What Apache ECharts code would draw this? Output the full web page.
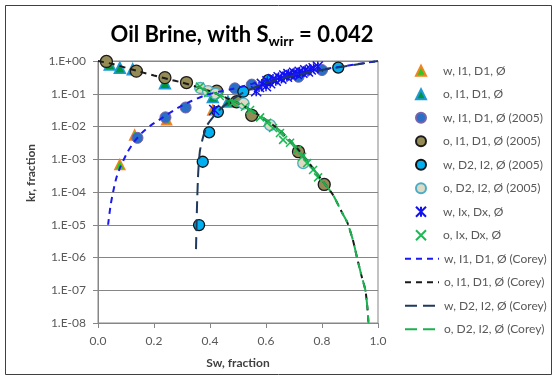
<!DOCTYPE html>
<html>
<head>
<meta charset="utf-8">
<script src="https://cdn.jsdelivr.net/npm/echarts@6/dist/echarts.min.js"></script>
<style>
  html, body { margin: 0; padding: 0; background: #ffffff; }
  #chart { width: 557px; height: 379px; }
</style>
</head>
<body>
<div id="chart"></div>
<script>
// Relative permeability data, Sw (fraction) vs kr (fraction)
const seriesNames = [
  'w, I1, D1, Ø', 'o, I1, D1, Ø', 'w, I1, D1, Ø (2005)', 'o, I1, D1, Ø (2005)',
  'w, D2, I2, Ø (2005)', 'o, D2, I2, Ø (2005)', 'w, Ix, Dx, Ø', 'o, Ix, Dx, Ø',
  'w, I1, D1, Ø (Corey)', 'o, I1, D1, Ø (Corey)', 'w, D2, I2, Ø (Corey)', 'o, D2, I2, Ø (Corey)'
];

const yTickLabels = ['1.E-08', '1.E-07', '1.E-06', '1.E-05', '1.E-04', '1.E-03', '1.E-02', '1.E-01', '1.E+00'];

// measured points
const wI1D1 = [[0.078, 6.9e-4], [0.131, 5.5e-3], [0.245, 0.016], [0.41, 0.032]];
const oI1D1 = [[0.042, 0.78], [0.078, 0.62], [0.124, 0.56], [0.239, 0.21], [0.41, 0.08], [0.464, 0.058]];
const wI1D1_2005 = [[0.141, 4.5e-3], [0.241, 0.019], [0.313, 0.038], [0.489, 0.146], [0.549, 0.19], [0.716, 0.33], [0.80, 0.53]];
const oI1D1_2005 = [[0.03, 0.97], [0.137, 0.49], [0.239, 0.31], [0.316, 0.22], [0.424, 0.12], [0.495, 0.057], [0.549, 0.022], [0.716, 1.7e-3], [0.808, 1.7e-4]];
const wD2I2_2005 = [[0.361, 9.8e-6], [0.374, 8.4e-4], [0.397, 6.6e-3], [0.428, 0.028], [0.519, 0.115], [0.608, 0.26], [0.858, 0.63]];
const oD2I2_2005 = [[0.365, 0.15], [0.393, 0.12], [0.42, 0.10], [0.52, 0.05], [0.615, 0.011], [0.733, 7.6e-4]];
const wIxDx = [
  [0.415, 0.032], [0.565, 0.12], [0.575, 0.16], [0.585, 0.20], [0.60, 0.17], [0.605, 0.24],
  [0.615, 0.21], [0.625, 0.28], [0.635, 0.25], [0.645, 0.32], [0.655, 0.29], [0.665, 0.36],
  [0.675, 0.33], [0.68, 0.40], [0.69, 0.37], [0.70, 0.44], [0.71, 0.40], [0.72, 0.47],
  [0.73, 0.44], [0.74, 0.52], [0.75, 0.48], [0.76, 0.55], [0.77, 0.60], [0.785, 0.68]
];
const oIxDx = [
  [0.364, 0.165], [0.393, 0.105], [0.435, 0.085], [0.482, 0.052], [0.525, 0.04], [0.543, 0.032],
  [0.579, 0.019], [0.604, 0.013], [0.625, 9e-3], [0.65, 6.3e-3], [0.661, 3.9e-3], [0.686, 3.2e-3],
  [0.711, 1.9e-3], [0.729, 1.2e-3], [0.747, 7.6e-4], [0.768, 4.7e-4], [0.786, 2.8e-4]
];

// Corey model curves
const wI1D1_corey = [
  [0.036, 1e-5], [0.045, 4e-5], [0.054, 1e-4], [0.065, 2.6e-4], [0.078, 5.4e-4], [0.09, 9e-4],
  [0.106, 1.7e-3], [0.13, 3.5e-3], [0.16, 6.8e-3], [0.19, 0.011], [0.228, 0.018], [0.285, 0.037],
  [0.33, 0.058], [0.375, 0.085], [0.43, 0.115], [0.48, 0.14], [0.55, 0.2], [0.6, 0.26],
  [0.7, 0.39], [0.8, 0.55], [0.9, 0.74], [1.0, 1.0]
];
const oI1D1_corey = [
  [0.0, 1.0], [0.05, 0.82], [0.1, 0.62], [0.15, 0.47], [0.2, 0.36], [0.25, 0.28], [0.3, 0.22],
  [0.35, 0.165], [0.4, 0.12], [0.45, 0.08], [0.5, 0.052], [0.55, 0.03], [0.6, 0.016],
  [0.65, 7.5e-3], [0.7, 2.8e-3], [0.75, 8.5e-4], [0.8, 2.3e-4], [0.84, 8e-5], [0.87, 2.5e-5],
  [0.89, 1.2e-5], [0.91, 3.5e-6], [0.925, 1e-6], [0.94, 3e-7], [0.955, 1e-7], [0.962, 3e-8], [0.966, 1e-8]
];
const wD2I2_corey = [
  [0.350, 1.8e-6], [0.352, 1e-5], [0.354, 5e-5], [0.358, 4e-4], [0.364, 1.8e-3], [0.376, 5e-3],
  [0.39, 0.011], [0.41, 0.019], [0.43, 0.03], [0.46, 0.05], [0.52, 0.11], [0.6, 0.21],
  [0.7, 0.36], [0.8, 0.53], [0.86, 0.64], [0.93, 0.8], [1.0, 1.0]
];
const oD2I2_corey = [
  [0.35, 0.165], [0.4, 0.12], [0.45, 0.08], [0.5, 0.052], [0.55, 0.03], [0.6, 0.016],
  [0.65, 7.5e-3], [0.7, 2.8e-3], [0.75, 8.5e-4], [0.8, 2.3e-4], [0.84, 8e-5], [0.87, 2.5e-5],
  [0.89, 1.2e-5], [0.91, 3.5e-6], [0.925, 1e-6], [0.94, 3e-7], [0.955, 1e-7], [0.962, 3e-8], [0.966, 1e-8]
];

const FONT = 'Lato';
const TEXT_GREY = '#595959';
const AXIS_GREY = '#868686';

const starPath = 'path://M0,0L10,10M10,0L0,10M5,0L5,10';
const crossPath = 'path://M0,0L10,10M10,0L0,10';

function scatter(name, data, symbol, size, fill, border, bw) {
  return {
    name, type: 'scatter', data, symbol, symbolSize: size,
    itemStyle: { color: fill, borderColor: border, borderWidth: bw, opacity: 1 },
    emphasis: { disabled: true }
  };
}
function curve(name, data, color, dash) {
  return {
    name, type: 'line', data, symbol: 'none', showSymbol: false, smooth: 0.2,
    lineStyle: { color, width: 2, type: dash },
    itemStyle: { color },
    emphasis: { disabled: true }
  };
}

const chart = echarts.init(document.getElementById('chart'), null, { renderer: 'canvas' });

chart.setOption({
  animation: false,
  backgroundColor: '#ffffff',
  textStyle: { fontFamily: FONT },
  title: {
    text: '{a|Oil Brine, with S}{b|wirr}{a| = 0.042}',
    left: 242, top: 21, textAlign: 'center', padding: 0,
    textStyle: {
      rich: {
        a: { fontFamily: FONT, fontSize: 22, fontWeight: 'bold', color: '#000', lineHeight: 27 },
        b: { fontFamily: FONT, fontSize: 14, fontWeight: 'bold', color: '#000', lineHeight: 15, verticalAlign: 'bottom' }
      }
    }
  },
  graphic: [{
    type: 'rect', silent: true,
    shape: { x: 5.5, y: 5.5, width: 546, height: 369 },
    style: { fill: 'none', stroke: '#404040', lineWidth: 1 }
  }],
  legend: [{
    data: seriesNames.slice(0, 8),
    orient: 'vertical', left: 415, top: 63.7, padding: 0,
    itemWidth: 10, itemHeight: 10, itemGap: 9.5,
    textStyle: { fontFamily: FONT, fontSize: 12, color: TEXT_GREY, padding: [0, 0, 0, 12], lineHeight: 14 },
    selectedMode: false
  }, {
    data: seriesNames.slice(8),
    orient: 'vertical', left: 404, top: 251.7, padding: 0,
    itemWidth: 34, itemHeight: 14, itemGap: 9.5,
    itemStyle: { opacity: 0 },
    textStyle: { fontFamily: FONT, fontSize: 12, color: TEXT_GREY, lineHeight: 14 },
    selectedMode: false
  }],
  grid: {
    left: 98, right: 179, top: 61, bottom: 56,
    show: true, borderColor: AXIS_GREY, borderWidth: 1, containLabel: false
  },
  xAxis: {
    type: 'value', min: 0, max: 1, interval: 0.2,
    name: 'Sw, fraction', nameLocation: 'middle', nameGap: 34,
    nameTextStyle: { fontFamily: FONT, fontSize: 12, fontWeight: 'bold', color: '#404040' },
    axisLine: { show: true, lineStyle: { color: AXIS_GREY, width: 1 } },
    axisTick: { show: true, inside: false, length: 5, lineStyle: { color: AXIS_GREY } },
    axisLabel: { fontFamily: FONT, fontSize: 12, color: TEXT_GREY, margin: 12, formatter: v => v.toFixed(1) },
    splitLine: { show: false }
  },
  yAxis: {
    type: 'log', logBase: 10, min: 1e-8, max: 1, interval: 1,
    name: 'kr, fraction', nameLocation: 'middle', nameGap: 58, nameRotate: 90,
    nameTextStyle: { fontFamily: FONT, fontSize: 12, fontWeight: 'bold', color: '#404040', padding: [0, 0, 0, 38] },
    axisLine: { show: true, lineStyle: { color: AXIS_GREY, width: 1 } },
    axisTick: { show: true, inside: false, length: 5, lineStyle: { color: AXIS_GREY } },
    axisLabel: {
      fontFamily: FONT, fontSize: 12, color: TEXT_GREY, margin: 12,
      formatter: v => yTickLabels[Math.round(Math.log10(v)) + 8]
    },
    splitLine: { show: true, lineStyle: { color: AXIS_GREY, width: 1 } },
    minorTick: { show: false }
  },
  series: [
    scatter(seriesNames[0], wI1D1, 'triangle', 10, '#22CC22', '#F58220', 1.5),
    scatter(seriesNames[1], oI1D1, 'triangle', 11, '#00963C', '#1E9AD6', 1.5),
    scatter(seriesNames[2], wI1D1_2005, 'circle', 11, '#2A6EC6', '#7A63A8', 1),
    scatter(seriesNames[3], oI1D1_2005, 'circle', 12, '#958B57', '#1a1a1a', 1.3),
    scatter(seriesNames[4], wD2I2_2005, 'circle', 11, '#00B0F0', '#111111', 1.3),
    scatter(seriesNames[5], oD2I2_2005, 'circle', 11, '#DDD9C3', '#4BACC6', 1.3),
    scatter(seriesNames[6], wIxDx, starPath, 10, 'rgba(0,0,0,0)', '#1010F0', 1.5),
    scatter(seriesNames[7], oIxDx, crossPath, 8, 'rgba(0,0,0,0)', '#1DB954', 1.5),
    curve(seriesNames[8], wI1D1_corey, '#1A1AF0', [6, 5]),
    curve(seriesNames[9], oI1D1_corey, '#1a1a1a', [6, 5]),
    curve(seriesNames[10], wD2I2_corey, '#1F3A5C', [12, 6]),
    curve(seriesNames[11], oD2I2_corey, '#1DB050', [12, 6])
  ]
});
</script>
</body>
</html>
